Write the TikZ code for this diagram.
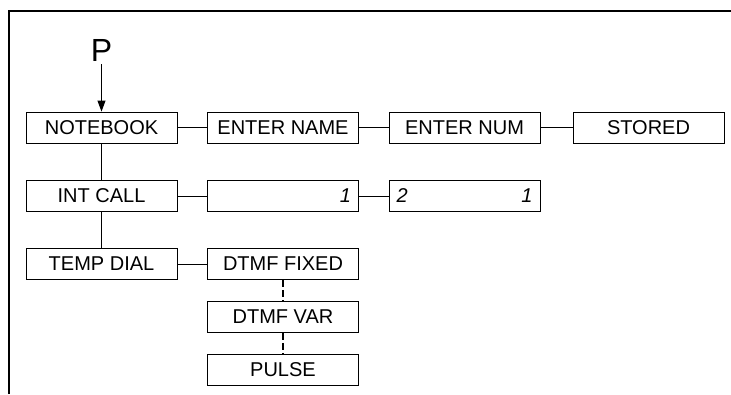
\documentclass[tikz,border=0pt]{standalone}
\usepackage{fontspec}
\setmainfont{Liberation Sans}
\usetikzlibrary{arrows.meta,positioning}

\begin{document}
\begin{tikzpicture}[x=1pt,y=-1pt,
  box/.style={draw, line width=0.9pt, minimum width=151pt, minimum height=31pt,
    inner sep=0pt, font=\fontsize{20}{24}\selectfont},
  numbox/.style={box, text width=136pt, font=\fontsize{20}{24}\selectfont\itshape},
  link/.style={line width=0.9pt},
  alt/.style={line width=1.3pt, dash pattern=on 7pt off 3pt},
  arr/.style={-{Triangle[length=11pt,width=8pt]}, line width=1pt}]
\useasboundingbox (0,0) rectangle (731,394);
% ================= frame =================
\draw[line width=2pt] (8.5,394) -- (8.5,10.5) -- (731,10.5);
% ================= entry key =================
\node[font=\fontsize{32}{36}\selectfont, inner sep=0pt, outer sep=3pt,
  anchor=base] (p) at (101.5,61) {P};
% ================= row 1: notebook =================
\node[box] (nb)     at (101.5,127.5) {NOTEBOOK};
\node[box] (name)   at (283,127.5)   {ENTER NAME};
\node[box] (num)    at (464.5,127.5) {ENTER NUM};
\node[box] (stored) at (648.5,127.5) {STORED};
% ================= row 2: internal call =================
\node[box]    (int)  at (101.5,196) {INT CALL};
\node[numbox, align=right] (one) at (283,196) {1};
\node[numbox] (two)  at (464.5,196) {2\hfill 1};
% ================= row 3: temporary dial =================
\node[box] (temp)  at (101.5,264) {TEMP DIAL};
\node[box] (fixed) at (283,264)   {DTMF FIXED};
\node[box] (var)   at (283,317)   {DTMF VAR};
\node[box] (pulse) at (283,369.5) {PULSE};
% connectors
\draw[arr] (p) -- (nb);
\draw[link] (nb) -- (name);
\draw[link] (name) -- (num);
\draw[link] (num) -- (stored);
\draw[link] (nb) -- (int);
\draw[link] (int) -- (one);
\draw[link] (one) -- (two);
\draw[link] (int) -- (temp);
\draw[link] (temp) -- (fixed);
\draw[alt] (fixed) -- (var);
\draw[alt] (var) -- (pulse);
\end{tikzpicture}
\end{document}
